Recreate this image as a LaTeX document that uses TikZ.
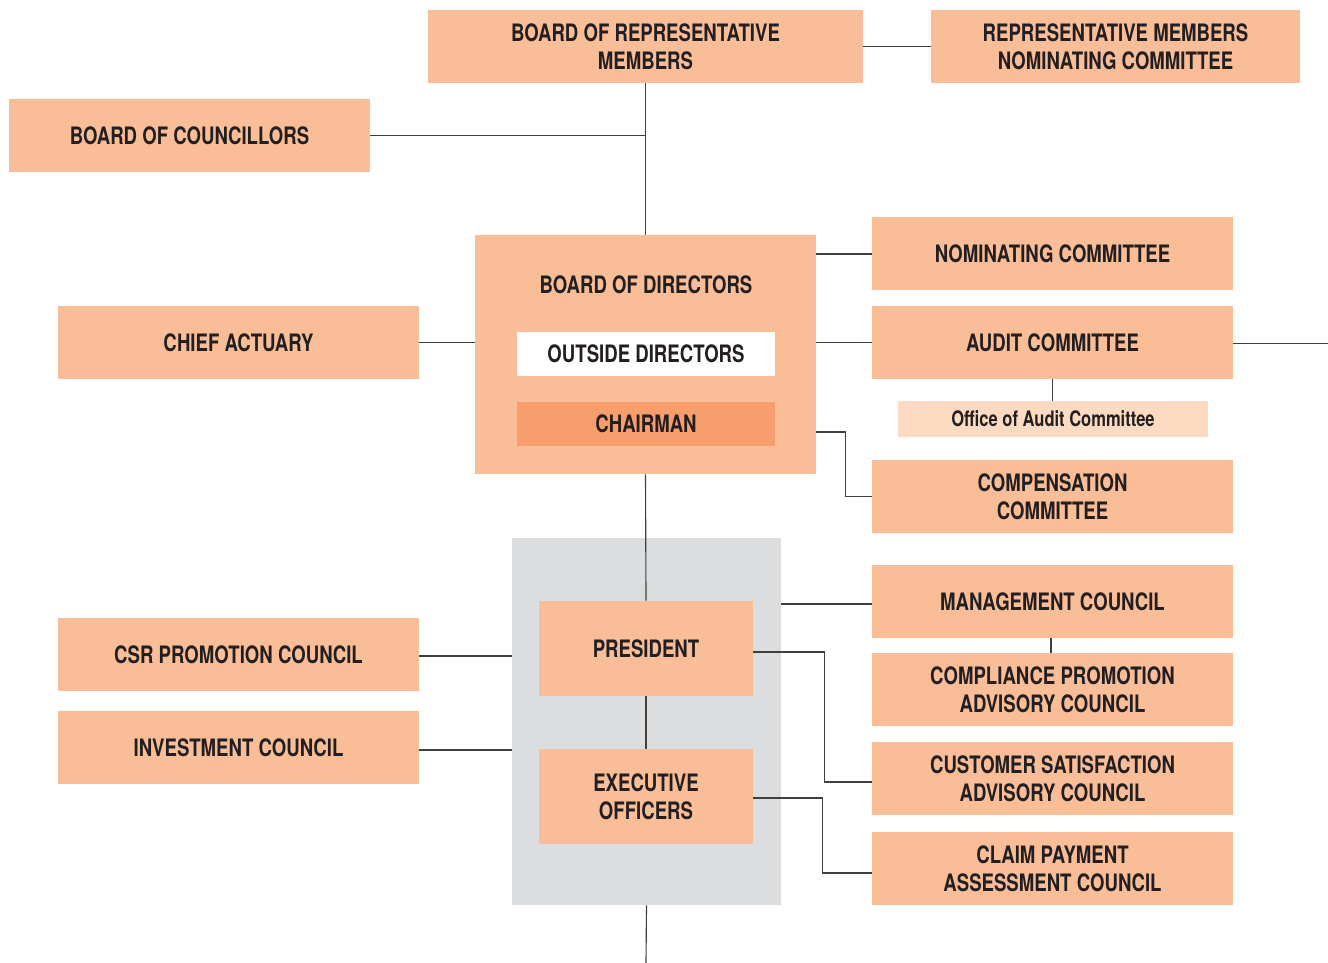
\documentclass[tikz,border=0pt]{standalone}
\usepackage{fontspec}
\setmainfont{TeX Gyre Heros}[FakeStretch=0.775]
\definecolor{boxc}{HTML}{F9BD98}
\definecolor{chairc}{HTML}{F89E6C}
\definecolor{officec}{HTML}{FDDBC3}
\definecolor{grayc}{HTML}{DCDDDF}
\definecolor{txtc}{HTML}{231F20}
\definecolor{linec}{HTML}{3F3F3F}
\begin{document}
\begin{tikzpicture}[x=0.75pt,y=-0.75pt,
  base/.style={rectangle,inner sep=0pt,align=center,text=txtc,font=\bfseries\fontsize{18}{21}\selectfont},
  obox/.style={base,fill=boxc,minimum width=270.75pt,minimum height=54.75pt},
  conn/.style={draw=linec,line width=0.85pt}]
\useasboundingbox (0,0) rectangle (1328,963);
% boxes
\node[obox,minimum width=326.25pt] (brm) at (645.5,46.5) {BOARD OF REPRESENTATIVE\\MEMBERS};
\node[obox,minimum width=276.75pt] (rmnc) at (1115.5,46.5) {REPRESENTATIVE MEMBERS\\NOMINATING COMMITTEE};
\node[obox] (boc) at (189.5,135.5) {BOARD OF COUNCILLORS};
\node[base,fill=boxc,minimum width=255.75pt,minimum height=179.25pt] (bod) at (645.5,354.5) {};
\node[base] (bodt) at (646,285) {BOARD OF DIRECTORS};
\node[base,fill=white,minimum width=193.5pt,minimum height=33pt] (out) at (646,354) {OUTSIDE DIRECTORS};
\node[base,fill=chairc,minimum width=193.5pt,minimum height=33pt] (chair) at (646,424) {CHAIRMAN};
\node[obox] (ca) at (238.5,342.5) {CHIEF ACTUARY};
\node[obox] (nom) at (1052.5,253.5) {NOMINATING COMMITTEE};
\node[obox] (aud) at (1052.5,342.5) {AUDIT COMMITTEE};
\node[base,fill=officec,minimum width=232.5pt,minimum height=27pt,font=\bfseries\fontsize{16}{19}\selectfont] (oac) at (1053,419) {Office of Audit Committee};
\node[obox] (comp) at (1052.5,496.5) {COMPENSATION\\COMMITTEE};
\node[base,fill=grayc,minimum width=201.75pt,minimum height=275.25pt] (gray) at (646.5,721.5) {};
\node[base,fill=boxc,minimum width=160.5pt,minimum height=71.25pt] (pres) at (646,648.5) {PRESIDENT};
\node[base,fill=boxc,minimum width=160.5pt,minimum height=71.25pt] (exec) at (646,796.5) {EXECUTIVE\\OFFICERS};
\node[obox] (csr) at (238.5,654.5) {CSR PROMOTION COUNCIL};
\node[obox] (inv) at (238.5,747.5) {INVESTMENT COUNCIL};
\node[obox] (mgmt) at (1052.5,601.5) {MANAGEMENT COUNCIL};
\node[obox] (compl) at (1052.5,689.5) {COMPLIANCE PROMOTION\\ADVISORY COUNCIL};
\node[obox] (cust) at (1052.5,778.5) {CUSTOMER SATISFACTION\\ADVISORY COUNCIL};
\node[obox] (claim) at (1052.5,868.5) {CLAIM PAYMENT\\ASSESSMENT COUNCIL};
\coordinate (redge) at (1328,343.5);
\coordinate (bedge) at (646,963);
% connectors
\draw[conn] (brm.east) -- (rmnc.west);
\draw[conn] (brm.south) -- (bod.north);
\draw[conn] (boc.east) -- (boc.east -| brm.south);
\draw[conn] (bod.east |- 0,254) -- (nom.west |- 0,254);
\draw[conn] (ca.east) -- (bod.west |- ca.east);
\draw[conn] (bod.east |- aud.west) -- (aud.west);
\draw[conn] (aud.east |- redge) -- (redge);
\draw[conn] (aud.south) -- (aud.south |- oac.north);
\draw[conn] (bod.east |- 0,432) -- ++(29,0) |- (comp.west);
\draw[conn] (bod.south) -- (pres.north);
\draw[conn] (pres.south) -- (exec.north);
\draw[conn] (gray.south) -- (bedge);
\draw[conn] (csr.east |- 0,656) -- (gray.west |- 0,656);
\draw[conn] (inv.east |- 0,750) -- (gray.west |- 0,750);
\draw[conn] (gray.east |- 0,604) -- (mgmt.west |- 0,604);
\draw[conn] (1051,638) -- (1051,653);
\draw[conn] (pres.east |- 0,652) -- ++(71,0) |- (cust.west |- 0,782);
\draw[conn] (exec.east |- 0,798) -- ++(69,0) |- (claim.west |- 0,873);
\end{tikzpicture}
\end{document}
